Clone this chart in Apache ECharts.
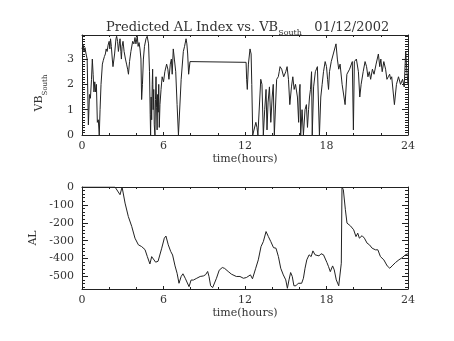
<!DOCTYPE html>
<html>
<head>
<meta charset="utf-8">
<script src="https://cdn.jsdelivr.net/npm/echarts@6/dist/echarts.min.js"></script>
<style>
  html, body { margin: 0; padding: 0; background: #fff; }
  #chart { width: 454px; height: 341px; }
</style>
</head>
<body>
<div id="chart"></div>
<script>
// Southward IMF component (VB_South), hours after 00 UT
var vbHours = [
  0.00, 0.08, 0.15, 0.22, 0.30, 0.38, 0.47, 0.55, 0.62, 0.70, 0.76, 0.82, 0.88, 0.94, 1.00, 1.06,
  1.13, 1.20, 1.27, 1.33, 1.40, 1.50, 1.57, 1.65, 1.72, 1.78, 1.85, 1.92, 2.00, 2.05, 2.10, 2.16,
  2.23, 2.28, 2.40, 2.50, 2.55, 2.62, 2.68, 2.75, 2.80, 2.86, 2.90, 2.95, 3.02, 3.10, 3.20, 3.28,
  3.36, 3.42, 3.50, 3.60, 3.73, 3.82, 3.90, 3.97, 4.07, 4.13, 4.20, 4.27, 4.34, 4.39, 4.45, 4.52,
  4.60, 4.71, 4.80, 4.90, 4.97, 5.02, 5.05, 5.09, 5.13, 5.17, 5.20, 5.24, 5.28, 5.32, 5.37, 5.41,
  5.45, 5.49, 5.53, 5.57, 5.61, 5.65, 5.69, 5.74, 5.82, 5.90, 6.00, 6.10, 6.23, 6.32, 6.40, 6.50,
  6.58, 6.64, 6.72, 6.80, 6.90, 7.00, 7.10, 7.18, 7.30, 7.46, 7.55, 7.66, 7.72, 7.78, 7.85, 7.95,
  8.00, 12.08, 12.12, 12.17, 12.25, 12.37, 12.45, 12.50, 12.57, 12.70, 12.80, 12.88, 12.95, 13.05,
  13.16, 13.25, 13.35, 13.45, 13.55, 13.62, 13.70, 13.80, 13.90, 14.00, 14.08, 14.16, 14.33, 14.45,
  14.52, 14.58, 14.70, 14.85, 15.00, 15.10, 15.20, 15.30, 15.42, 15.52, 15.62, 15.72, 15.86, 15.95,
  16.00, 16.05, 16.10, 16.20, 16.30, 16.42, 16.52, 16.60, 16.68, 16.75, 16.82, 16.90, 16.95, 17.05,
  17.18, 17.33, 17.48, 17.58, 17.68, 17.78, 17.90, 18.00, 18.08, 18.15, 18.22, 18.35, 18.50, 18.70,
  18.80, 18.90, 19.00, 19.15, 19.37, 19.50, 19.70, 19.90, 19.98, 20.05, 20.20, 20.35, 20.45, 20.55,
  20.70, 20.84, 20.95, 21.05, 21.15, 21.25, 21.38, 21.50, 21.65, 21.82, 21.92, 22.00, 22.10, 22.22,
  22.35, 22.45, 22.55, 22.65, 22.72, 22.80, 23.00, 23.15, 23.30, 23.45, 23.60, 23.72, 23.83, 23.92,
  24.00
];
var vbSouth = [
  3.40, 3.55, 3.30, 3.45, 3.20, 3.00, 0.40, 1.60, 1.45, 2.20, 3.00, 2.40, 1.70, 2.10, 1.70, 2.00,
  0.50, 0.60, 0.00, 1.00, 2.00, 2.80, 2.95, 3.10, 3.20, 3.40, 3.30, 3.55, 3.70, 3.40, 3.80, 3.50,
  3.00, 2.70, 3.20, 3.80, 3.90, 3.70, 3.30, 3.60, 3.80, 3.30, 3.00, 3.50, 3.70, 3.30, 3.00, 2.80,
  2.60, 2.40, 2.90, 3.30, 3.70, 3.60, 3.85, 3.60, 3.90, 3.50, 3.65, 3.40, 3.00, 1.40, 2.00, 3.00,
  3.50, 3.80, 3.90, 3.60, 2.50, 0.80, 0.00, 1.50, 0.60, 2.00, 2.60, 1.00, 1.80, 0.40, 0.00, 1.40,
  2.30, 1.10, 0.20, 1.60, 0.90, 2.00, 0.30, 1.20, 1.80, 2.30, 2.10, 2.50, 2.80, 2.60, 2.20, 2.80,
  3.00, 2.40, 3.40, 3.00, 2.50, 1.20, 0.00, 0.00, 2.20, 3.30, 3.50, 3.80, 3.60, 3.20, 2.40, 2.90,
  2.87, 2.87, 2.20, 1.80, 2.80, 3.40, 3.20, 2.00, 0.00, 0.00, 0.50, 0.30, 0.00, 0.00,
  2.20, 2.00, 0.00, 1.00, 1.80, 0.20, 1.30, 1.90, 0.50, 1.50, 2.00, 0.00, 2.20, 2.30,
  2.50, 2.70, 2.60, 2.30, 2.50, 2.70, 2.20, 1.20, 1.90, 2.30, 1.80, 2.00, 1.50, 0.50,
  1.70, 2.00, 0.00, 1.00, 0.00, 1.00, 1.20, 0.30, 1.00, 1.50, 1.80, 2.50, 0.00, 1.90,
  2.50, 2.70, 0.00, 1.50, 2.00, 2.50, 2.90, 2.70, 2.20, 1.80, 2.50, 2.90, 3.20, 3.60,
  3.00, 2.60, 2.80, 2.00, 1.20, 2.40, 2.60, 2.90, 0.20, 2.90, 3.00, 2.50, 1.50, 2.00,
  2.50, 2.90, 2.70, 2.30, 2.50, 2.20, 2.60, 2.40, 2.80, 3.20, 2.70, 3.00, 2.50, 2.90,
  2.60, 2.20, 2.30, 2.40, 2.20, 2.30, 1.20, 2.00, 2.30, 2.00, 2.20, 1.90, 3.30, 2.50,
  2.00
];

// Predicted AL index (nT)
var alHours = [
  0.00, 2.43, 2.80, 2.95, 3.17, 3.41, 3.66, 3.90, 4.15, 4.39, 4.64, 4.81, 5.00, 5.13, 5.25, 5.42,
  5.60, 5.87, 6.06, 6.18, 6.35, 6.53, 6.67, 6.85, 7.00, 7.14, 7.30, 7.43, 7.60, 7.72, 7.88, 8.03,
  8.20, 8.45, 8.70, 8.94, 9.10, 9.25, 9.35, 9.47, 9.62, 9.75, 9.90, 10.10, 10.33, 10.50, 10.76, 11.00,
  11.36, 11.63, 11.88, 12.10, 12.20, 12.40, 12.55, 12.79, 12.98, 13.18, 13.35, 13.55, 13.72, 13.90,
  14.10, 14.28, 14.46, 14.63, 14.82, 15.00, 15.12, 15.24, 15.36, 15.48, 15.60, 15.75, 15.92, 16.05,
  16.17, 16.30, 16.42, 16.55, 16.72, 16.87, 17.00, 17.16, 17.28, 17.45, 17.60, 17.78, 17.90, 18.03,
  18.15, 18.28, 18.45, 18.57, 18.72, 18.90, 19.02, 19.09, 19.14, 19.24, 19.39, 19.51, 19.76, 20.00,
  20.17, 20.30, 20.42, 20.62, 20.79, 20.99, 21.16, 21.36, 21.60, 21.78, 21.97, 22.22, 22.47, 22.66,
  22.83, 23.08, 23.33, 23.57, 23.81, 24.00
];
var alIndex = [
  0, 0, -43, 0, -90, -165, -220, -286, -323, -333, -350, -389, -430, -389, -395, -420,
  -415, -342, -286, -274, -323, -360, -380, -441, -482, -538, -500, -485, -510, -505, -557, -520,
  -520, -510, -500, -497, -490, -472, -500, -552, -562, -558, -510, -465, -450, -455, -472, -487,
  -500, -500, -510, -506, -513, -491, -513, -454, -407, -333, -305, -249, -277, -305,
  -339, -342, -389, -454, -491, -519, -566, -519, -478, -500, -552, -552, -538, -528,
  -538, -510, -454, -407, -379, -389, -357, -379, -373, -385, -373, -379, -379, -422,
  -445, -473, -441, -463, -519, -552, -555, -426, 0, -15, -127, -202, -217, -239,
  -277, -258, -286, -272, -286, -314, -323, -342, -351, -351, -389, -407, -441, -454,
  -441, -422, -407, -395, -379, -373
];

var hourTicks = [0, 6, 12, 18, 24];

function pairs(xs, ys) {
  return xs.map(function (x, i) { return [x, ys[i]]; });
}

var FONT = 'DejaVu Serif';
var INK = '#222';
var TXT = '#333';

function timeAxis(gridIndex, withLabels) {
  return {
    type: 'value', gridIndex: gridIndex,
    min: hourTicks[0], max: hourTicks[hourTicks.length - 1], interval: 6,
    position: withLabels ? 'bottom' : 'top',
    name: withLabels ? 'time(hours)' : '',
    nameLocation: 'middle', nameGap: 19,
    nameTextStyle: { fontFamily: FONT, fontSize: 11, color: TXT },
    axisLine: { show: true, onZero: false, lineStyle: { color: INK, width: 1 } },
    axisTick: { show: true, inside: true, length: 3, lineStyle: { color: INK } },
    minorTick: { show: true, splitNumber: 3, length: 2, lineStyle: { color: INK } },
    axisLabel: { show: withLabels, fontFamily: FONT, fontSize: 11, color: TXT, margin: 6 },
    splitLine: { show: false }
  };
}

function valueAxis(gridIndex, cfg, withLabels) {
  var ax = {
    type: 'value', gridIndex: gridIndex,
    min: cfg.min, max: cfg.max,
    position: withLabels ? 'left' : 'right',
    axisLine: { show: true, onZero: false, lineStyle: { color: INK, width: 1 } },
    axisTick: { show: true, inside: true, length: 6, lineStyle: { color: INK } },
    minorTick: { show: true, splitNumber: cfg.minor, length: 3, lineStyle: { color: INK } },
    axisLabel: {
      show: withLabels, fontFamily: FONT, fontSize: 11, color: TXT, margin: 8,
      showMinLabel: cfg.showMin, showMaxLabel: cfg.showMax
    },
    splitLine: { show: false }
  };
  if (cfg.interval) ax.interval = cfg.interval;
  if (cfg.splitNumber) ax.splitNumber = cfg.splitNumber;
  if (withLabels) {
    ax.name = cfg.name;
    ax.nameLocation = 'middle';
    ax.nameRotate = 90;
    ax.nameGap = cfg.nameGap;
    ax.nameTextStyle = {
      fontFamily: FONT, fontSize: 11, color: TXT, padding: cfg.namePad,
      rich: {
        m: { fontFamily: FONT, fontSize: 11, color: TXT, verticalAlign: 'top', lineHeight: 14 },
        s: { fontFamily: FONT, fontSize: 7, color: TXT, verticalAlign: 'top', lineHeight: 8, padding: [8, 0, 0, 0] }
      }
    };
  }
  return ax;
}

var vbCfg = { min: 0, max: 3.95, interval: 1, minor: 10, showMin: true, showMax: false,
  name: '{m|VB}{s|South}', nameGap: 34, namePad: [0, 16, 0, 0] };
var alCfg = { min: -570, max: 0, splitNumber: 6, minor: 5, showMin: false, showMax: true,
  name: 'AL', nameGap: 42, namePad: [0, 0, 0, 0] };

var chart = echarts.init(document.getElementById('chart'), null, { renderer: 'canvas' });
chart.setOption({
  animation: false,
  backgroundColor: '#fff',
  title: {
    text: '{m|Predicted AL Index vs. VB}{s|South}{m|   01/12/2002}',
    left: 101, top: 16,
    textStyle: {
      fontWeight: 'normal',
      rich: {
        m: { fontFamily: FONT, fontSize: 13, fontWeight: 'normal', color: TXT, verticalAlign: 'top', lineHeight: 15 },
        s: { fontFamily: FONT, fontSize: 8, fontWeight: 'normal', color: TXT, verticalAlign: 'top', lineHeight: 9, padding: [8, 0, 0, 0] }
      }
    }
  },
  grid: [
    { left: 82, right: 46, top: 35, height: 100 },
    { left: 82, right: 46, top: 187, height: 102 }
  ],
  xAxis: [timeAxis(0, true), timeAxis(0, false), timeAxis(1, true), timeAxis(1, false)],
  yAxis: [valueAxis(0, vbCfg, true), valueAxis(0, vbCfg, false), valueAxis(1, alCfg, true), valueAxis(1, alCfg, false)],
  series: [
    {
      type: 'line', xAxisIndex: 0, yAxisIndex: 0, data: pairs(vbHours, vbSouth),
      showSymbol: false, lineStyle: { color: INK, width: 1 }, clip: true
    },
    {
      type: 'line', xAxisIndex: 2, yAxisIndex: 2, data: pairs(alHours, alIndex),
      showSymbol: false, lineStyle: { color: INK, width: 1 }, clip: true
    }
  ]
});
</script>
</body>
</html>
